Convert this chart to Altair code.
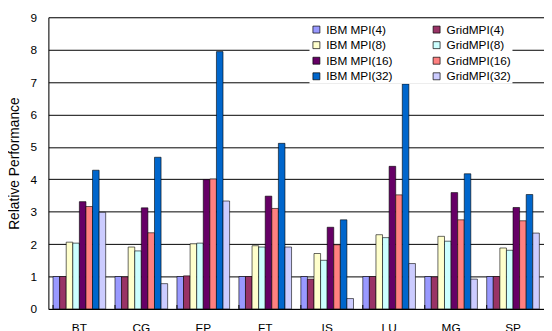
import altair as alt
import pandas as pd

categories = ["BT", "CG", "EP", "FT", "IS", "LU", "MG", "SP"]
series = ["IBM MPI(4)", "GridMPI(4)", "IBM MPI(8)", "GridMPI(8)",
          "IBM MPI(16)", "GridMPI(16)", "IBM MPI(32)", "GridMPI(32)"]
colors = ["#9999FF", "#993366", "#FFFFCC", "#CCFFFF",
          "#660066", "#FF8080", "#0066CC", "#CCCCFF"]
# legend is filled column by column, so list the IBM entries first
legend_order = ["IBM MPI(4)", "IBM MPI(8)", "IBM MPI(16)", "IBM MPI(32)",
                "GridMPI(4)", "GridMPI(8)", "GridMPI(16)", "GridMPI(32)"]

ibm4 = [1.00, 1.00, 1.00, 1.00, 1.00, 1.00, 1.00, 1.00]
grid4 = [1.00, 0.99, 1.02, 1.00, 0.92, 1.00, 0.99, 1.00]
ibm8 = [2.06, 1.91, 2.01, 1.95, 1.71, 2.29, 2.24, 1.88]
grid8 = [2.03, 1.79, 2.03, 1.91, 1.50, 2.20, 2.09, 1.81]
ibm16 = [3.31, 3.12, 3.99, 3.48, 2.52, 4.40, 3.59, 3.13]
grid16 = [3.16, 2.35, 4.01, 3.10, 1.98, 3.52, 2.75, 2.72]
ibm32 = [4.28, 4.68, 7.94, 5.11, 2.75, 6.94, 4.17, 3.53]
grid32 = [2.98, 0.78, 3.33, 1.91, 0.32, 1.40, 0.92, 2.34]

y_ticks = [0, 1, 2, 3, 4, 5, 6, 7, 8, 9]

all_vals = [ibm4, grid4, ibm8, grid8, ibm16, grid16, ibm32, grid32]
rows = []
for s, vals in zip(series, all_vals):
    for c, v in zip(categories, vals):
        rows.append({"bench": c, "series": s, "value": v})
df = pd.DataFrame(rows)
tick_df = pd.DataFrame({"bench": categories})

color_map = dict(zip(series, colors))
legend_colors = [color_map[s] for s in legend_order]

x_scale = alt.Scale(paddingInner=0.15, paddingOuter=0.075)

bars = alt.Chart(df).mark_bar(stroke="black", strokeWidth=0.6).encode(
    x=alt.X("bench:N", sort=categories, scale=x_scale,
            axis=alt.Axis(title=None, labelAngle=0, labelFontSize=12,
                          labelFont="Liberation Sans", labelColor="black",
                          labelPadding=14, ticks=False, domainColor="black",
                          grid=False)),
    xOffset=alt.XOffset("series:N", sort=series,
                        scale=alt.Scale(paddingInner=0, paddingOuter=0)),
    y=alt.Y("value:Q", scale=alt.Scale(domain=[0, 9], nice=False),
            axis=alt.Axis(values=y_ticks, title="Relative Performance",
                          titleFont="Liberation Sans", titleFontSize=14,
                          titleFontWeight="normal", titleColor="black",
                          titlePadding=9,
                          labelFont="Liberation Sans", labelFontSize=12,
                          labelColor="black", labelPadding=12,
                          ticks=False, domainColor="black",
                          gridColor="black", gridOpacity=1)),
    color=alt.Color("series:N",
                    scale=alt.Scale(domain=legend_order, range=legend_colors),
                    legend=alt.Legend(title=None, orient="none",
                                      legendX=265, legendY=5.5, columns=2,
                                      symbolType="square", symbolSize=50,
                                      symbolStrokeColor="black",
                                      symbolStrokeWidth=0.7,
                                      labelFont="Liberation Sans",
                                      labelFontSize=12, labelColor="black",
                                      labelOffset=4,
                                      fillColor="white", padding=1,
                                      rowPadding=3.8, columnPadding=38)),
)

ticks = alt.Chart(tick_df).mark_rule(color="black", strokeWidth=1).encode(
    x=alt.X("bench:N", sort=categories, bandPosition=0),
    y=alt.value(292),
    y2=alt.value(296),
)

chart = alt.layer(bars, ticks).properties(
    width=503, height=296,
    autosize=alt.AutoSizeParams(type="none"),
    padding={"left": 41, "top": 7, "right": 0, "bottom": 20},
).configure_view(stroke=None).configure(background="white")

chart.save("out.html", embed_options={"renderer": "svg", "actions": False})
